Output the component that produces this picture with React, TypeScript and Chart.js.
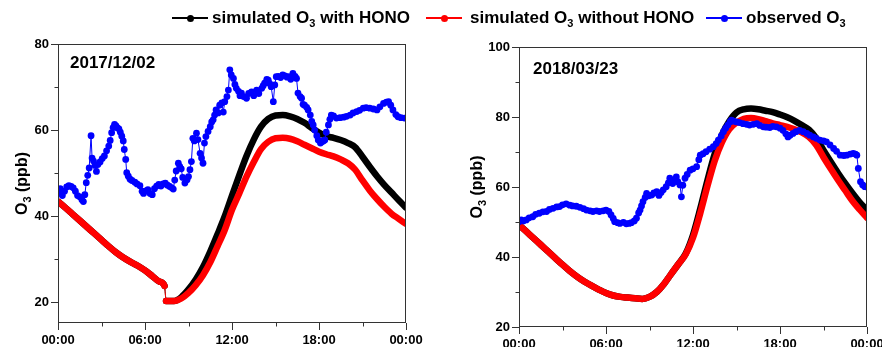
import React, { useEffect, useRef } from 'react';
import { Chart, registerables } from 'chart.js';

Chart.register(...registerables);

const FONT = "'Liberation Sans', Arial, Helvetica, sans-serif";
const BLACK = '#000000';
const RED = '#ff0000';
const BLUE = '#0000ff';
const AXIS = '#333333';

type P = [number, number];

// x axis (hours of day)
const hourTicks = [0, 6, 12, 18, 24];
const hourLabels = ['00:00', '06:00', '12:00', '18:00', '00:00'];
const minorHourTicks = [3, 9, 15, 21];

const seriesLabels = ['simulated O', 'simulated O', 'observed O'];
const seriesSuffix = [' with HONO', ' without HONO', ''];
const yTitleParts = ['O', '3', ' (ppb)'];

// ---------- 2017/12/02 ----------
const leftDate = '2017/12/02';
const leftYMin = 15.2;
const leftYMax = 80;
const leftMinorY = [30, 50, 70];

const leftWithHono: P[] = [
  [0, 43.4], [0.5, 42.0], [1, 40.5], [1.5, 39.0], [2, 37.5], [2.5, 36.0], [3, 34.5], [3.5, 33.0],
  [4, 31.6], [4.5, 30.4], [5, 29.4], [5.5, 28.5], [6, 27.4], [6.5, 26.1], [7, 24.8], [7.35, 23.8],
  [7.45, 20.3], [8, 20.3], [8.5, 21.2], [9, 23.0], [9.5, 25.3], [10, 28.2], [10.5, 31.8], [11, 35.8],
  [11.5, 40.0], [12, 44.8], [12.5, 49.5], [13, 54.0], [13.5, 57.8], [14, 60.8], [14.5, 62.6], [15, 63.4],
  [15.5, 63.5], [16, 63.2], [16.5, 62.6], [17, 61.7], [17.5, 60.5], [18, 59.4], [18.5, 58.6], [19, 58.2],
  [19.5, 57.7], [20, 57.0], [20.5, 56.0], [21, 53.8], [21.5, 51.5], [22, 49.3], [22.5, 47.3], [23, 45.5],
  [23.5, 43.7], [24, 42.0],
];

const leftWithoutHono: P[] = [
  [0, 43.4], [0.5, 42.0], [1, 40.5], [1.5, 39.0], [2, 37.5], [2.5, 36.0], [3, 34.5], [3.5, 33.0],
  [4, 31.6], [4.5, 30.4], [5, 29.4], [5.5, 28.5], [6, 27.4], [6.5, 26.1], [7, 24.8], [7.35, 23.8],
  [7.45, 20.3], [8, 20.3], [8.5, 20.9], [9, 22.2], [9.5, 24.0], [10, 26.3], [10.5, 29.3], [11, 33.0],
  [11.5, 36.8], [12, 41.5], [12.5, 45.3], [13, 49.2], [13.5, 52.6], [14, 55.6], [14.5, 57.3], [15, 58.1],
  [15.5, 58.2], [16, 58.0], [16.5, 57.4], [17, 56.6], [17.5, 55.8], [18, 55.0], [18.5, 54.4], [19, 53.9],
  [19.5, 53.2], [20, 52.3], [20.5, 50.8], [21, 48.3], [21.5, 46.0], [22, 44.0], [22.5, 42.2], [23, 40.6],
  [23.5, 39.4], [24, 38.2],
];

const leftObserved: P[] = [
  [0.0, 45.5], [0.15, 46.4], [0.3, 44.8], [0.45, 45.8], [0.6, 46.8], [0.75, 47.1], [0.9, 46.9], [1.05, 46.6],
  [1.2, 45.8], [1.35, 44.8], [1.5, 44.5], [1.65, 43.8], [1.75, 43.4], [1.85, 45.0], [1.95, 47.8], [2.05, 49.5],
  [2.15, 51.2], [2.28, 58.7], [2.35, 53.5], [2.45, 52.8], [2.55, 51.8], [2.65, 50.4], [2.75, 52.0], [2.9, 52.6],
  [3.05, 53.4], [3.2, 54.0], [3.35, 55.2], [3.5, 56.3], [3.6, 57.6], [3.7, 59.4], [3.8, 60.6], [3.9, 61.3],
  [4.0, 61.0], [4.1, 60.5], [4.2, 60.3], [4.3, 59.5], [4.4, 58.6], [4.5, 57.5], [4.57, 55.5], [4.67, 53.2],
  [4.74, 50.1], [4.85, 49.3], [4.97, 48.6], [5.1, 48.3], [5.3, 47.9], [5.45, 47.5], [5.65, 47.1], [5.8, 45.8],
  [5.9, 45.3], [6.05, 45.9], [6.2, 46.2], [6.35, 45.3], [6.5, 45.0], [6.65, 46.4], [6.8, 47.0], [6.95, 47.4],
  [7.1, 47.0], [7.25, 47.5], [7.4, 47.7], [7.55, 47.2], [7.7, 46.9], [7.85, 46.6], [7.95, 46.3], [8.05, 48.4],
  [8.15, 50.5], [8.3, 52.3], [8.4, 51.5], [8.5, 51.0], [8.6, 49.0], [8.75, 47.7], [8.9, 48.5], [9.0, 49.2],
  [9.1, 50.8], [9.2, 52.7], [9.3, 58.1], [9.4, 57.5], [9.55, 59.3], [9.65, 57.8], [9.8, 54.6], [9.9, 53.5],
  [10.0, 52.3], [10.1, 57.0], [10.2, 58.5], [10.35, 59.7], [10.5, 60.8], [10.6, 61.9], [10.7, 62.4], [10.8, 63.5],
  [10.9, 64.7], [11.05, 64.0], [11.15, 65.8], [11.3, 66.3], [11.4, 64.2], [11.5, 66.6], [11.65, 67.8], [11.75, 69.3],
  [11.85, 74.0], [11.95, 72.8], [12.1, 72.0], [12.2, 70.6], [12.3, 69.7], [12.45, 69.0], [12.55, 68.0], [12.65, 68.6],
  [12.8, 67.8], [13.0, 67.4], [13.15, 68.5], [13.35, 68.9], [13.5, 68.0], [13.7, 69.3], [13.85, 68.5], [14.05, 69.7],
  [14.15, 70.3], [14.25, 70.9], [14.4, 71.8], [14.5, 71.6], [14.6, 70.8], [14.7, 70.1], [14.85, 66.6], [14.95, 70.5],
  [15.05, 72.4], [15.2, 72.5], [15.35, 72.2], [15.5, 72.8], [15.65, 72.6], [15.8, 72.3], [15.9, 72.4], [16.05, 71.8],
  [16.2, 73.2], [16.35, 72.5], [16.45, 72.0], [16.55, 68.6], [16.7, 67.8], [16.8, 67.4], [16.9, 66.0], [17.0, 65.8],
  [17.15, 65.3], [17.25, 64.7], [17.4, 63.5], [17.5, 62.0], [17.6, 61.2], [17.7, 60.0], [17.85, 58.7], [17.95, 57.7],
  [18.1, 57.0], [18.2, 57.3], [18.3, 57.5], [18.4, 57.7], [18.5, 59.5], [18.65, 61.2], [18.75, 62.5], [18.85, 63.5],
  [19.0, 63.3], [19.2, 62.8], [19.45, 62.9], [19.7, 63.0], [19.9, 63.2], [20.15, 63.5], [20.35, 64.0], [20.6, 64.3],
  [20.8, 64.6], [21.05, 65.1], [21.25, 65.2], [21.5, 65.1], [21.75, 64.9], [22.0, 64.7], [22.2, 65.4], [22.45, 66.2],
  [22.65, 66.5], [22.8, 66.6], [22.95, 65.8], [23.1, 64.7], [23.3, 63.6], [23.45, 63.1], [23.65, 62.9], [23.9, 62.8],
];

// ---------- 2018/03/23 ----------
const rightDate = '2018/03/23';
const rightYMin = 20;
const rightYMax = 100;
const rightMinorY = [30, 50, 70, 90];

const rightWithHono: P[] = [
  [0, 49.2], [0.5, 47.3], [1, 45.4], [1.5, 43.5], [2, 41.6], [2.5, 39.7], [3, 37.8], [3.5, 36.0],
  [4, 34.4], [4.5, 33.0], [5, 31.8], [5.5, 30.7], [6, 29.7], [6.5, 29.0], [7, 28.6], [7.5, 28.4],
  [8, 28.2], [8.5, 28.0], [9, 28.6], [9.5, 30.0], [10, 32.3], [10.5, 35.2], [11, 38.0], [11.5, 41.0],
  [12, 46.3], [12.5, 53.8], [13, 62.0], [13.5, 69.5], [14, 75.0], [14.5, 78.8], [15, 81.3], [15.5, 82.2],
  [16, 82.4], [16.5, 82.2], [17, 81.8], [17.5, 81.4], [18, 80.7], [18.5, 79.9], [19, 78.9], [19.5, 77.7],
  [20, 76.4], [20.5, 74.0], [21, 70.5], [21.5, 67.2], [22, 64.0], [22.5, 61.0], [23, 58.2], [23.5, 55.6],
  [24, 53.4],
];

const rightWithoutHono: P[] = [
  [0, 49.2], [0.5, 47.3], [1, 45.4], [1.5, 43.5], [2, 41.6], [2.5, 39.7], [3, 37.8], [3.5, 36.0],
  [4, 34.4], [4.5, 33.0], [5, 31.8], [5.5, 30.7], [6, 29.7], [6.5, 29.0], [7, 28.6], [7.5, 28.4],
  [8, 28.2], [8.5, 28.0], [9, 28.6], [9.5, 30.0], [10, 32.3], [10.5, 35.2], [11, 38.0], [11.5, 40.8],
  [12, 45.5], [12.5, 52.5], [13, 60.3], [13.5, 67.5], [14, 72.8], [14.5, 76.5], [15, 78.4], [15.5, 79.5],
  [16, 79.7], [16.5, 79.4], [17, 78.8], [17.5, 78.2], [18, 77.7], [18.5, 77.2], [19, 76.5], [19.5, 75.6],
  [20, 74.3], [20.5, 72.0], [21, 68.5], [21.5, 65.2], [22, 62.0], [22.5, 59.0], [23, 56.0], [23.5, 53.5],
  [24, 51.2],
];

const rightObserved: P[] = [
  [0, 50.1], [0.15, 50.6], [0.3, 50.3], [0.5, 50.6], [0.7, 51.2], [0.95, 51.5], [1.15, 52.2], [1.4, 52.5],
  [1.65, 52.9], [1.9, 53.0], [2.1, 53.6], [2.35, 53.9], [2.6, 54.3], [2.8, 54.4], [3.0, 54.9], [3.25, 55.2],
  [3.5, 54.8], [3.7, 54.6], [3.95, 54.5], [4.2, 54.2], [4.45, 53.8], [4.65, 53.4], [4.9, 53.2], [5.1, 53.0],
  [5.35, 53.2], [5.55, 53.0], [5.8, 53.2], [6.0, 53.4], [6.2, 53.0], [6.35, 52.0], [6.5, 51.0], [6.6, 50.1],
  [6.8, 49.8], [6.95, 49.6], [7.2, 49.9], [7.4, 49.5], [7.6, 49.6], [7.75, 49.8], [7.95, 50.3], [8.1, 51.1],
  [8.25, 52.6], [8.35, 53.4], [8.45, 54.6], [8.55, 55.8], [8.7, 57.0], [8.8, 58.2], [8.95, 57.5], [9.15, 57.7],
  [9.3, 58.3], [9.5, 58.7], [9.65, 57.6], [9.8, 58.4], [9.95, 59.2], [10.15, 60.1], [10.3, 61.2], [10.4, 62.5],
  [10.5, 61.8], [10.6, 61.0], [10.75, 61.8], [10.85, 62.9], [10.95, 61.5], [11.1, 60.6], [11.2, 57.2], [11.3, 60.5],
  [11.45, 62.5], [11.6, 63.6], [11.8, 64.8], [12.0, 65.2], [12.25, 65.8], [12.4, 67.8], [12.5, 69.1], [12.7, 69.5],
  [12.9, 70.1], [13.15, 70.8], [13.4, 71.5], [13.6, 72.4], [13.75, 73.4], [13.95, 74.6], [14.1, 75.8], [14.25, 76.8],
  [14.4, 77.7], [14.55, 78.6], [14.65, 79.1], [14.8, 78.8], [15.0, 78.6], [15.2, 78.4], [15.45, 78.1], [15.7, 77.9],
  [15.9, 77.7], [16.15, 77.9], [16.4, 78.1], [16.6, 77.6], [16.85, 77.2], [17.05, 77.1], [17.3, 77.0], [17.5, 77.3],
  [17.75, 77.2], [18.0, 76.8], [18.2, 76.2], [18.4, 75.2], [18.55, 74.3], [18.7, 74.8], [18.9, 75.3], [19.1, 75.8],
  [19.35, 76.2], [19.6, 75.8], [19.85, 75.3], [20.05, 74.8], [20.3, 74.3], [20.5, 73.9], [20.75, 73.4], [21.0, 73.2],
  [21.2, 72.9], [21.45, 72.0], [21.7, 71.0], [21.9, 70.2], [22.15, 69.1], [22.4, 69.0], [22.6, 69.1], [22.85, 69.4],
  [23.05, 69.6], [23.2, 69.4], [23.3, 69.1], [23.4, 65.3], [23.55, 61.5], [23.7, 60.6], [23.85, 60.1], [24.0, 60.0],
];

const toXY = (a: P[]) => a.map(([x, y]) => ({ x, y }));

const decorPlugin = {
  id: 'decor',
  afterDraw(chart: any, _args: any, opts: any) {
    const { ctx, chartArea: a } = chart;
    const xs = chart.scales.x;
    const ys = chart.scales.y;
    const L = Math.round(a.left) + 0.5;
    const R = Math.round(a.right) - 0.5;
    const T = Math.round(a.top) + 0.5;
    const B = Math.round(a.bottom) - 0.5;
    ctx.save();
    ctx.strokeStyle = AXIS;
    ctx.lineWidth = 1;
    ctx.strokeRect(L, T, R - L, B - T);
    ctx.beginPath();
    for (const v of opts.xMinor) {
      const px = Math.round(xs.getPixelForValue(v)) + 0.5;
      ctx.moveTo(px, B);
      ctx.lineTo(px, B + 4);
    }
    for (const v of opts.yMinor) {
      const py = Math.round(ys.getPixelForValue(v)) + 0.5;
      ctx.moveTo(L - 4, py);
      ctx.lineTo(L, py);
    }
    ctx.stroke();

    // date label inside the plot
    ctx.fillStyle = '#000';
    ctx.font = `bold 17px ${FONT}`;
    ctx.textAlign = 'left';
    ctx.textBaseline = 'middle';
    ctx.fillText(opts.date, a.left + opts.dx, a.top + opts.dy);

    // y axis title with a real subscript
    const big = `bold 16px ${FONT}`;
    const small = `bold 11px ${FONT}`;
    ctx.font = big;
    const w0 = ctx.measureText(yTitleParts[0]).width;
    const w2 = ctx.measureText(yTitleParts[2]).width;
    ctx.font = small;
    const w1 = ctx.measureText(yTitleParts[1]).width;
    const total = w0 + w1 + w2;
    ctx.translate(a.left - opts.yWidth + opts.titleX, (a.top + a.bottom) / 2);
    ctx.rotate(-Math.PI / 2);
    ctx.textBaseline = 'alphabetic';
    let x = -total / 2;
    const base = 6;
    ctx.font = big;
    ctx.fillText(yTitleParts[0], x, base);
    x += w0;
    ctx.font = small;
    ctx.fillText(yTitleParts[1], x, base + 4);
    x += w1;
    ctx.font = big;
    ctx.fillText(yTitleParts[2], x, base);
    ctx.restore();
  },
};

interface PanelProps {
  left: number;
  width: number;
  padTop: number;
  padRight: number;
  yWidth: number;
  xHeight: number;
  yMin: number;
  yMax: number;
  yMinor: number[];
  date: string;
  dateDx: number;
  dateDy: number;
  hono: P[];
  noHono: P[];
  obs: P[];
}

const HEIGHT = 370;

function Panel(p: PanelProps) {
  const ref = useRef<HTMLCanvasElement | null>(null);
  useEffect(() => {
    if (!ref.current) return;
    const tickFont = { family: FONT, size: 13, weight: 'bold' as const };
    const simSegment = {
      borderWidth: (c: any) => (c.p1.parsed.x - c.p0.parsed.x < 0.2 ? 1 : 6.5),
    };
    const chart = new Chart(ref.current, {
      type: 'line',
      data: {
        datasets: [
          {
            label: seriesLabels[2] + '₃' + seriesSuffix[2],
            data: toXY(p.obs),
            borderColor: BLUE,
            backgroundColor: BLUE,
            borderWidth: 1,
            pointRadius: 3.4,
            pointBorderWidth: 0,
            pointBackgroundColor: BLUE,
            tension: 0,
            order: 0,
          },
          {
            label: seriesLabels[1] + '₃' + seriesSuffix[1],
            data: toXY(p.noHono),
            borderColor: RED,
            backgroundColor: RED,
            borderWidth: 6.5,
            borderCapStyle: 'round',
            borderJoinStyle: 'round',
            pointRadius: 0,
            cubicInterpolationMode: 'monotone',
            segment: simSegment,
            order: 1,
          },
          {
            label: seriesLabels[0] + '₃' + seriesSuffix[0],
            data: toXY(p.hono),
            borderColor: BLACK,
            backgroundColor: BLACK,
            borderWidth: 6.5,
            borderCapStyle: 'round',
            borderJoinStyle: 'round',
            pointRadius: 0,
            cubicInterpolationMode: 'monotone',
            segment: simSegment,
            order: 2,
          },
        ] as any,
      },
      options: {
        responsive: false,
        animation: false,
        devicePixelRatio: 1,
        layout: { padding: { left: 0, top: p.padTop, right: p.padRight, bottom: 0 } },
        plugins: {
          legend: { display: false },
          tooltip: { enabled: false },
          decor: {
            xMinor: minorHourTicks,
            yMinor: p.yMinor,
            date: p.date,
            dx: p.dateDx,
            dy: p.dateDy,
            yWidth: p.yWidth,
            titleX: 20.5,
          },
        } as any,
        scales: {
          x: {
            type: 'linear',
            min: 0,
            max: 24,
            ticks: {
              stepSize: 6,
              autoSkip: false,
              maxRotation: 0,
              padding: 3,
              color: '#000',
              font: tickFont,
              callback: (v: any) => {
                const i = hourTicks.indexOf(Number(v));
                return i >= 0 ? hourLabels[i] : '';
              },
            },
            grid: { drawOnChartArea: false, drawTicks: true, tickLength: 7, color: AXIS },
            border: { display: false },
            afterFit: (s: any) => {
              s.height = p.xHeight;
            },
          },
          y: {
            min: p.yMin,
            max: p.yMax,
            ticks: { stepSize: 20, includeBounds: false, padding: 2, color: '#000', font: tickFont },
            grid: { drawOnChartArea: false, drawTicks: true, tickLength: 7, color: AXIS },
            border: { display: false },
            title: { display: false },
            afterFit: (s: any) => {
              s.width = p.yWidth;
            },
          },
        } as any,
      },
      plugins: [decorPlugin],
    } as any);
    return () => chart.destroy();
  }, []);
  return (
    <canvas
      ref={ref}
      width={p.width}
      height={HEIGHT}
      style={{ position: 'absolute', left: p.left, top: 0, width: p.width, height: HEIGHT }}
    />
  );
}

const legendColors = [BLACK, RED, BLUE];
const legendLineX = [172, 426, 706];
const legendTextX = [212, 470, 746];

function Legend() {
  return (
    <>
      {legendColors.map((c, i) => (
        <React.Fragment key={i}>
          <div
            style={{
              position: 'absolute',
              left: legendLineX[i],
              top: 17,
              width: 36,
              height: 2,
              background: c,
            }}
          />
          <div
            style={{
              position: 'absolute',
              left: legendLineX[i] + 14.5,
              top: 14.5,
              width: 7,
              height: 7,
              borderRadius: '50%',
              background: c,
            }}
          />
          <div
            style={{
              position: 'absolute',
              left: legendTextX[i],
              top: 9,
              fontFamily: FONT,
              fontWeight: 'bold',
              fontSize: 17,
              lineHeight: '17px',
              whiteSpace: 'nowrap',
              color: '#000',
            }}
          >
            {seriesLabels[i]}
            <sub style={{ fontSize: 11, verticalAlign: 'baseline', position: 'relative', top: 4 }}>3</sub>
            {seriesSuffix[i]}
          </div>
        </React.Fragment>
      ))}
    </>
  );
}

export default function App() {
  return (
    <div
      style={{
        position: 'fixed',
        left: 0,
        top: 0,
        width: 882,
        height: 347,
        overflow: 'hidden',
        background: '#fff',
      }}
    >
      <Panel
        left={0}
        width={445}
        padTop={44}
        padRight={39}
        yWidth={58}
        xHeight={HEIGHT - 323}
        yMin={leftYMin}
        yMax={leftYMax}
        yMinor={leftMinorY}
        date={leftDate}
        dateDx={12}
        dateDy={19.5}
        hono={leftWithHono}
        noHono={leftWithoutHono}
        obs={leftObserved}
      />
      <Panel
        left={455}
        width={440}
        padTop={47}
        padRight={28}
        yWidth={64}
        xHeight={HEIGHT - 327}
        yMin={rightYMin}
        yMax={rightYMax}
        yMinor={rightMinorY}
        date={rightDate}
        dateDx={14}
        dateDy={22}
        hono={rightWithHono}
        noHono={rightWithoutHono}
        obs={rightObserved}
      />
      <Legend />
    </div>
  );
}
